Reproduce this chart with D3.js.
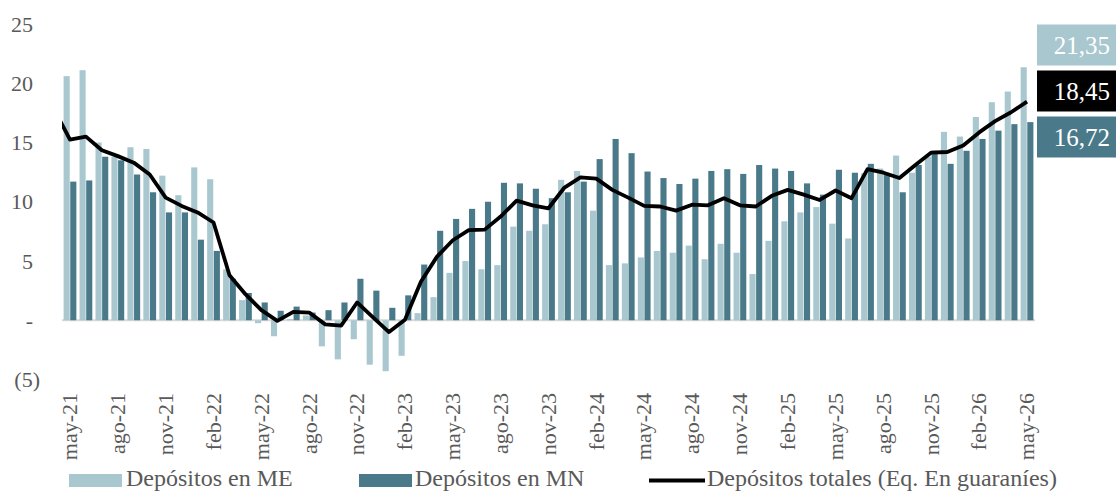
<!DOCTYPE html>
<html><head><meta charset="utf-8">
<script src="https://cdn.jsdelivr.net/npm/d3@7"></script>
<style>
html,body{margin:0;padding:0;background:#fff;}
svg{display:block;}
</style></head>
<body>
<svg id="chart" width="1116" height="492"></svg>
<script>
const categories = ["may-21","jun-21","jul-21","ago-21","sep-21","oct-21","nov-21","dic-21","ene-22","feb-22","mar-22","abr-22",
"may-22","jun-22","jul-22","ago-22","sep-22","oct-22","nov-22","dic-22","ene-23","feb-23","mar-23","abr-23",
"may-23","jun-23","jul-23","ago-23","sep-23","oct-23","nov-23","dic-23","ene-24","feb-24","mar-24","abr-24",
"may-24","jun-24","jul-24","ago-24","sep-24","oct-24","nov-24","dic-24","ene-25","feb-25","mar-25","abr-25",
"may-25","jun-25","jul-25","ago-25","sep-25","oct-25","nov-25","dic-25","ene-26","feb-26","mar-26","abr-26","may-26"];

const depositosME = [20.6,21.1,15.0,13.8,14.6,14.45,12.2,10.55,12.9,11.9,4.3,1.7,
-0.25,-1.35,0.1,0.4,-2.2,-3.3,-1.6,-3.75,-4.3,-3.0,0.6,1.95,
4.0,5.0,4.3,4.65,7.9,7.55,8.1,11.85,12.6,9.25,4.65,4.8,
5.3,5.85,5.7,6.3,5.15,6.45,5.7,3.9,6.7,8.35,9.1,9.55,
8.15,6.9,12.4,12.8,13.9,12.45,13.8,15.9,15.5,17.15,18.4,19.3,21.35];

const depositosMN = [11.7,11.8,13.8,13.5,12.3,10.8,9.1,9.1,6.8,5.85,3.5,2.3,
1.5,0.8,1.15,0.65,0.85,1.5,3.5,2.5,1.05,2.1,4.7,7.55,
8.55,9.4,10.0,11.6,11.55,11.1,10.3,10.8,11.7,13.6,15.3,14.1,
12.55,12.0,11.5,11.95,12.6,12.75,12.35,13.1,12.8,12.6,11.55,10.6,
12.7,12.45,13.2,12.25,10.8,13.1,14.3,13.2,14.3,15.3,16.0,16.55,16.72];

// total deposits; the value for abr-21 (before the first category) is only partly visible
const totalPrevious = 17.8;
const depositosTotales = [15.25,15.5,14.35,13.85,13.3,12.3,10.35,9.65,9.1,8.25,3.8,2.2,
0.85,-0.05,0.7,0.65,-0.35,-0.45,1.5,0.25,-1.0,0.05,3.25,5.35,
6.75,7.6,7.65,8.75,10.1,9.7,9.45,11.2,12.05,11.95,11.0,10.35,
9.65,9.6,9.25,9.75,9.7,10.3,9.7,9.6,10.5,11.0,10.6,10.15,
10.95,10.3,12.75,12.45,12.0,13.1,14.15,14.2,14.75,15.85,16.8,17.55,18.45];

const yTicks = [-5,0,5,10,15,20,25];
const seriesNames = ["Depósitos en ME","Depósitos en MN","Depósitos totales (Eq. En guaraníes)"];
const lastLabels = [
  {name:"ME", value:21.35, text:"21,35"},
  {name:"Total", value:18.45, text:"18,45"},
  {name:"MN", value:16.72, text:"16,72"}
];

const colME = "#a9c7cf", colMN = "#4a7a8a", colLine = "#000000", colText = "#595959";
const FONT = "'Liberation Serif', 'Times New Roman', serif";

const svg = d3.select("#chart");
const left = 62, right = 1035;
const x = d3.scaleBand().domain(categories).range([left, right]).paddingInner(0.2).paddingOuter(0.1);
const x1 = d3.scaleBand().domain(["ME","MN"]).range([0, x.bandwidth()]).paddingInner(0.08);
const y = d3.scaleLinear().domain([-5, 25]).range([379.5, 24]);
const step = x.step();
const cx = c => x(c) + x.bandwidth()/2;

// zero line
svg.append("line").attr("x1", left).attr("x2", right)
  .attr("y1", y(0)).attr("y2", y(0))
  .attr("stroke", "#d9d9d9").attr("stroke-width", 2);

// bars
const g = svg.append("g");
g.selectAll("rect.me").data(categories).join("rect").attr("class","me")
  .attr("x", c => x(c) + x1("ME")).attr("width", x1.bandwidth())
  .attr("y", (c,i) => y(Math.max(0, depositosME[i])))
  .attr("height", (c,i) => Math.abs(y(depositosME[i]) - y(0)))
  .attr("fill", colME);
g.selectAll("rect.mn").data(categories).join("rect").attr("class","mn")
  .attr("x", c => x(c) + x1("MN")).attr("width", x1.bandwidth())
  .attr("y", (c,i) => y(Math.max(0, depositosMN[i])))
  .attr("height", (c,i) => Math.abs(y(depositosMN[i]) - y(0)))
  .attr("fill", colMN);

// line (clipped to plot area)
svg.append("clipPath").attr("id","plotclip").append("rect")
  .attr("x", left).attr("y", 0).attr("width", right-left+10).attr("height", 492);
const linePts = [[cx(categories[0]) - step, totalPrevious]]
  .concat(categories.map((c,i) => [cx(c), depositosTotales[i]]));
svg.append("path").datum(linePts)
  .attr("clip-path","url(#plotclip)")
  .attr("d", d3.line().x(d => d[0]).y(d => y(d[1])))
  .attr("fill","none").attr("stroke", colLine).attr("stroke-width", 3.8)
  .attr("stroke-linejoin","round");

// y axis labels (accounting style)
const yAx = svg.append("g").attr("font-family", FONT).attr("font-size", 22).attr("fill", colText);
yAx.selectAll("text").data(yTicks).join("text")
  .attr("x", d => d < 0 ? 40 : 33)
  .attr("y", d => y(d)).attr("dy","0.35em")
  .attr("text-anchor","end")
  .text(d => d < 0 ? "(" + Math.abs(d) + ")" : (d === 0 ? "-" : d));

// x axis labels every 3 months
const xAxis = d3.axisBottom(x).tickValues(categories.filter((c,i) => i % 3 === 0)).tickSize(0).tickPadding(0);
const xg = svg.append("g").attr("transform", "translate(0,393)").call(xAxis);
xg.select(".domain").remove();
xg.selectAll("text")
  .attr("font-family", FONT).attr("font-size", 22).attr("fill", colText)
  .attr("transform","rotate(-90)")
  .attr("text-anchor","end")
  .attr("x", 0).attr("y", 0).attr("dy","0.33em");

// last-value boxes
const boxH = 41, boxGap = 5;
const meanY = d3.mean(lastLabels, d => y(d.value)) - 6;
const boxColors = {ME: colME, Total: "#000000", MN: colMN};
const bx = svg.append("g").attr("font-family", FONT).attr("font-size", 25);
lastLabels.forEach((d,k) => {
  const cy = meanY + (k-1)*(boxH + boxGap);
  bx.append("rect").attr("x", 1037).attr("y", cy - boxH/2).attr("width", 79).attr("height", boxH)
    .attr("fill", boxColors[d.name]);
  bx.append("text").attr("x", 1110).attr("y", cy).attr("dy","0.35em")
    .attr("text-anchor","end").attr("fill","#ffffff").text(d.text);
});

// legend
const lg = svg.append("g").attr("font-family", FONT).attr("font-size", 24).attr("fill", colText);
const legendItems = [
  {name: seriesNames[0], type:"rect", color: colME, x: 69, tx: 126},
  {name: seriesNames[1], type:"rect", color: colMN, x: 359, tx: 415},
  {name: seriesNames[2], type:"line", color: colLine, x: 649, tx: 707}
];
legendItems.forEach(it => {
  if (it.type === "rect") {
    lg.append("rect").attr("x", it.x).attr("y", 474).attr("width", 53).attr("height", 13).attr("fill", it.color);
  } else {
    lg.append("line").attr("x1", it.x).attr("x2", it.x + 56).attr("y1", 480.5).attr("y2", 480.5)
      .attr("stroke", it.color).attr("stroke-width", 4);
  }
  lg.append("text").attr("x", it.tx).attr("y", 486).text(it.name);
});
</script>
</body></html>
